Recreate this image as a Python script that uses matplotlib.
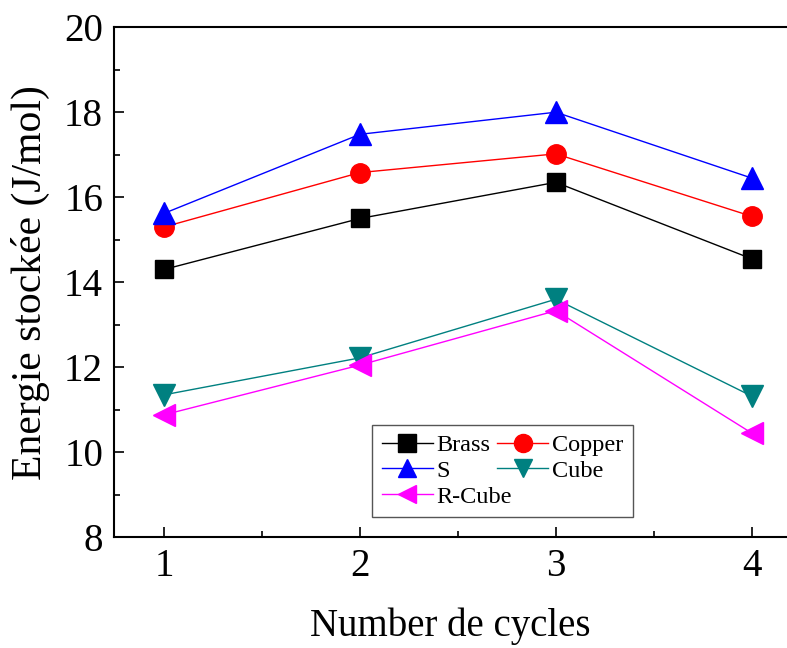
import matplotlib.pyplot as plt
from matplotlib.ticker import MultipleLocator

cycles = [1, 2, 3, 4]
brass = [14.3, 15.5, 16.35, 14.55]
copper = [15.3, 16.58, 17.02, 15.55]
s_tex = [15.62, 17.48, 18.0, 16.45]
cube = [11.35, 12.22, 13.6, 11.32]
r_cube = [10.88, 12.05, 13.33, 10.45]

plt.rcParams['font.family'] = ['Liberation Serif', 'DejaVu Serif']

fig = plt.figure(figsize=(7.87, 6.48), dpi=100)
ax = fig.add_axes([0.145, 0.171, 0.855, 0.787])

h_brass, = ax.plot(cycles, brass, color='black', lw=1, marker='s', ms=13, label='Brass')
h_copper, = ax.plot(cycles, copper, color='red', lw=1, marker='o', ms=14, label='Copper')
h_s, = ax.plot(cycles, s_tex, color='blue', lw=1, marker='^', ms=16, label='S')
h_cube, = ax.plot(cycles, cube, color='#008080', lw=1, marker='v', ms=16, label='Cube')
h_rcube, = ax.plot(cycles, r_cube, color='magenta', lw=1, marker='<', ms=16, label='R-Cube')

ax.set_xlim(0.745, 4.18)
ax.set_ylim(8, 20)
ax.set_xticks(cycles)
ax.xaxis.set_minor_locator(MultipleLocator(0.5))
ax.yaxis.set_major_locator(MultipleLocator(2))
ax.yaxis.set_minor_locator(MultipleLocator(1))
ax.tick_params(which='both', direction='in', top=False, right=False)
ax.tick_params(which='major', length=7, width=1.2, labelsize=28, pad=8)
ax.tick_params(which='minor', length=4, width=1.2)
ax.spines['right'].set_visible(False)
for sp in ['left', 'bottom', 'top']:
    ax.spines[sp].set_linewidth(1.5)

ax.set_xlabel('Number de cycles', fontsize=28, labelpad=16)
ax.set_ylabel('Energie stockée (J/mol)', fontsize=30, labelpad=10)

leg = ax.legend([h_brass, h_s, h_rcube, h_copper, h_cube],
                ['Brass', 'S', 'R-Cube', 'Copper', 'Cube'],
                ncol=2, loc='lower left', bbox_to_anchor=(0.383, 0.039),
                borderaxespad=0,
                fontsize=17.5, fancybox=False, edgecolor='#555555',
                handlelength=2.1, handletextpad=0.15, columnspacing=-0.6,
                labelspacing=0.15, borderpad=0.4, framealpha=1)
leg.get_frame().set_linewidth(1.0)
for h in leg.legend_handles:
    h.set_markersize(13)

fig.savefig('out.png', dpi=100)
